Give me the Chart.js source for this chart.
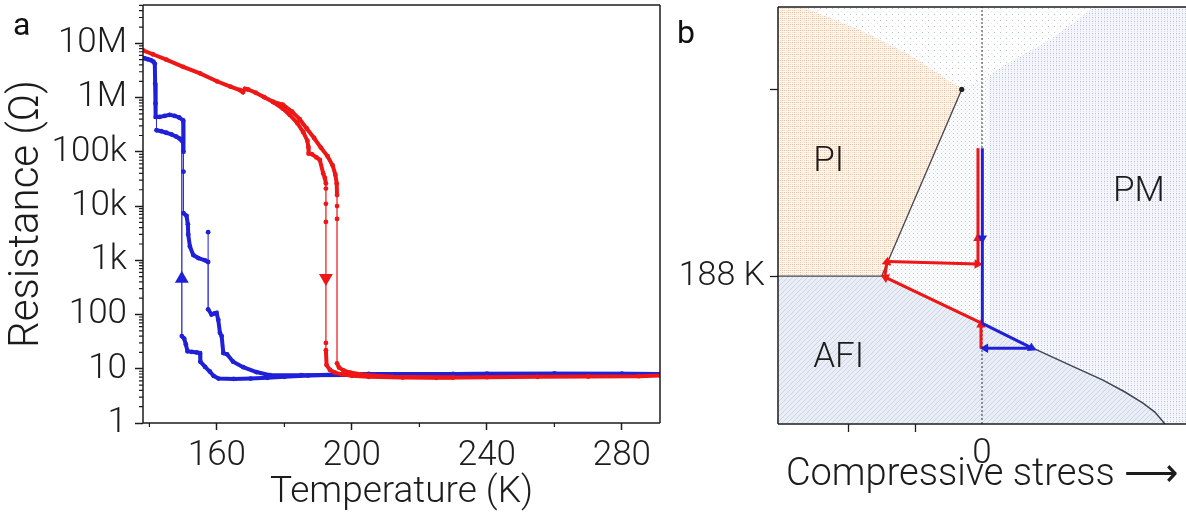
<!DOCTYPE html>
<html>
<head>
<meta charset="utf-8">
<script src="https://cdn.jsdelivr.net/npm/chart.js@4.4.0/dist/chart.umd.min.js"></script>
<style>
  html, body { margin: 0; padding: 0; background: #fff; }
  #wrap { position: relative; width: 1186px; height: 517px; overflow: hidden; }
  #boxA { position: absolute; left: 0; top: 0; }
  #boxB { position: absolute; left: 680px; top: 0; }
  .tag { position: absolute; font-family: Roboto, sans-serif; font-size: 32px; line-height: 32px; color: #111; }
</style>
</head>
<body>
<div id="wrap">
  <div id="boxA"><canvas id="chartA" width="672" height="517"></canvas></div>
  <div id="boxB"><canvas id="chartB" width="506" height="517"></canvas></div>
  <div class="tag" style="left:13px;top:8px">a</div>
  <div class="tag" style="left:677px;top:16px">b</div>
</div>
<script>
// ---- panel a: resistance vs temperature ----
// cooling run 1
const COOL1_T = [137.8, 138.6, 139.5, 140.4, 141.2, 141.6, 141.7, 141.8, 141.9, 143.0, 144.5, 146.0, 147.5, 148.8, 150.0,
  150.1, 150.1, 150.1, 151.0, 151.4, 151.5, 152.0, 153.0, 154.5, 156.5, 157.4, 157.4, 157.4, 158.4, 159.3, 159.9,
  160.4, 160.9, 161.4, 161.9, 163.0, 164.8, 167.8, 171.7, 175.7, 185, 200, 220, 240, 260, 280, 291.5];
const COOL1_R = [5.4e6, 5.3e6, 5.1e6, 4.9e6, 4.6e6, 4.2e6, 1.8e6, 7.8e5, 4.4e5, 4.4e5, 4.6e5, 4.8e5, 4.6e5, 4.3e5, 3.8e5,
  1.0e5, 4.3e4, 7.4e3, 6.6e3, 4.6e3, 3.0e3, 1.8e3, 1.25e3, 1.1e3, 1.0e3, 930, 3.3e3, 125, 100, 105, 107,
  80, 46, 40, 19.5, 18.5, 13.5, 10.7, 8.7, 7.6, 7.6, 7.7, 7.9, 8.1, 8.1, 8.1, 8.0];
// cooling run 2
const COOL2_T = [142.1, 142.1, 143.5, 145.0, 146.5, 148.0, 149.0, 149.6, 149.6, 150.3, 150.8, 151.3, 152.5, 154.0, 155.0,
  155.1, 156.5, 157.9, 159.0, 160.5, 165, 170, 175, 180, 187, 195, 205, 230, 260, 291.5];
const COOL2_R = [4.4e5, 2.5e5, 2.4e5, 2.25e5, 2.1e5, 1.9e5, 1.75e5, 1.6e5, 40, 36, 28, 21, 20.5, 20.0, 19.5,
  13.5, 10.8, 8.9, 7.4, 6.6, 6.5, 6.6, 6.8, 7.1, 7.5, 7.8, 8.0, 8.0, 8.1, 8.0];
// warming run 1
const WARM1_T = [138.1, 141, 145, 150, 155, 160, 164, 166.8, 167.7, 168.3, 169.2, 171.5, 174, 176.7, 179.5, 181.6,
  183.8, 185.6, 186.8, 187.1, 187.2, 188.1, 189.5, 190.5, 191.5, 192.0, 192.3, 192.3, 192.3, 192.3, 192.3, 192.3,
  192.5, 193.5, 195.0, 197.0, 200, 205, 215, 225, 240, 255, 270, 285, 291.5];
const WARM1_R = [7.4e6, 6.3e6, 5.0e6, 3.7e6, 2.8e6, 2.0e6, 1.6e6, 1.38e6, 1.26e6, 1.45e6, 1.41e6, 1.23e6, 1.02e6, 8.3e5, 6.3e5, 4.8e5,
  3.4e5, 2.3e5, 1.6e5, 1.23e5, 9.3e4, 9.1e4, 7.9e4, 7.1e4, 4.0e4, 3.3e4, 2.6e4, 2.1e4, 1.1e4, 5.1e3, 30, 22,
  11.7, 9.5, 8.5, 7.9, 7.4, 7.1, 6.9, 6.8, 7.0, 7.1, 7.2, 7.3, 7.5];
// warming run 2
const WARM2_T = [176.7, 179.5, 182.3, 184.5, 186.6, 188.8, 190.8, 192.8, 194.3, 195.1, 195.5, 195.6, 195.6, 195.6, 195.6,
  196.2, 197.5, 199.5, 202.5, 207, 212, 230];
const WARM2_R = [8.3e5, 7.4e5, 5.5e5, 4.0e5, 2.7e5, 1.8e5, 1.2e5, 8.3e4, 5.6e4, 3.8e4, 2.6e4, 1.6e4, 1.0e4, 5.8e3, 12.6,
  10.5, 9.3, 8.5, 7.9, 7.4, 7.1, 6.9];
// direction markers on the jumps
const COOL_MARK = [149.6, 457];
const WARM_MARK = [192.3, 470];

const T_MAJOR = [160, 200, 240, 280];
const T_MINOR = [140, 180, 220, 260];
const R_MAJOR = [1, 10, 100, 1e3, 1e4, 1e5, 1e6, 1e7];
const R_LABELS = ['1', '10', '100', '1k', '10k', '100k', '1M', '10M'];

// ---- panel b: schematic phase diagram (stress, temperature) ----
const PI_REGION = [[-3.045, 202.39], [-2.672, 202.39], [-1.821, 201.16], [-1.075, 199.82], [-0.552, 198.59],
  [-0.303, 197.98], [-1.497, 188], [-3.045, 188]];
const AFI_EDGE = [[-1.497, 188], [0, 185.47], [0.761, 184.15], [1.313, 183.24], [1.806, 182.44], [2.134, 181.80],
  [2.403, 181.21], [2.58, 180.73], [2.731, 180.09]];
const PM_REGION = [[-0.303, 197.98], [0.104, 198.75], [0.418, 199.44], [1.015, 200.62], [1.687, 202.39],
  [3.045, 202.39], [3.045, 180.09], [-1.497, 180.09], [-1.497, 188]];
const PM_RIGHT = [[0.104, 180.09], [0.104, 198.75], [0.418, 199.44], [1.015, 200.62], [1.687, 202.39],
  [3.045, 202.39], [3.045, 180.09]];
const PI_PM_LINE = [[-0.303, 197.98], [-1.497, 188]];
const PI_AFI_LINE = [[-3.045, 188], [-1.497, 188]];
const END_POINT = [-0.303, 197.98];
const WARM_PATH = [
  [[-0.015, 184.13], [-0.015, 185.40]],
  [[0, 185.47], [-1.44, 187.93]],
  [[-1.448, 188.05], [-1.418, 188.75]],
  [[-1.40, 188.78], [-0.07, 188.64]],
  [[-0.06, 188.64], [-0.06, 190.03], [-0.06, 194.84]]
];
const WARM_HEADS = [1, 1, 1, 1, 1];
const COOL_PATH = [
  [[0.005, 194.84], [0.005, 190.03], [0.005, 185.47]],
  [[0.005, 185.47], [0.74, 184.16]],
  [[0.76, 184.14], [0.05, 184.14]]
];
const COOL_HEADS = [1, 1, 1];
const X_TICKS = [-2, -1, 0];
const Y_TICKS = [188, 198];
const REGION_NAMES = ['PI', 'PM', 'AFI'];
const REGION_AT = [[-2.52, 194.07], [1.955, 192.47], [-2.52, 183.59]];

const FONT = 'Roboto, "Open Sans", sans-serif';
const INK = '#1c1c1c';
const RED = 'rgb(238,22,22)';
const RED_THIN = 'rgba(238,22,22,0.55)';
const BLUE = 'rgb(32,32,216)';
const BLUE_THIN = 'rgba(32,32,216,0.6)';

const pts = (xs, ys) => xs.map((x, i) => ({ x, y: ys[i] }));
const pairs = arr => arr.map(p => ({ x: p[0], y: p[1] }));

// box around the plot area
const frame = {
  id: 'frame',
  afterDraw(chart, args, opts) {
    const { ctx, chartArea: a } = chart;
    const sides = opts.sides || [];
    ctx.save();
    ctx.strokeStyle = INK;
    ctx.lineWidth = 1.5;
    ctx.beginPath();
    if (sides.includes('top')) { ctx.moveTo(a.left, a.top); ctx.lineTo(a.right, a.top); }
    if (sides.includes('right')) { ctx.moveTo(a.right, a.top); ctx.lineTo(a.right, a.bottom); }
    if (sides.includes('bottom')) { ctx.moveTo(a.left, a.bottom); ctx.lineTo(a.right, a.bottom); }
    if (sides.includes('left')) { ctx.moveTo(a.left, a.top); ctx.lineTo(a.left, a.bottom); }
    ctx.stroke();
    ctx.restore();
  }
};

// short unlabelled ticks
const minorTicks = {
  id: 'minorTicks',
  afterDraw(chart, args, opts) {
    const { ctx, chartArea: a, scales } = chart;
    ctx.save();
    ctx.strokeStyle = INK;
    ctx.lineWidth = 1.2;
    ctx.beginPath();
    (opts.x || []).forEach(v => {
      const px = scales.x.getPixelForValue(v);
      ctx.moveTo(px, a.bottom); ctx.lineTo(px, a.bottom + 4);
    });
    (opts.y || []).forEach(v => {
      const py = scales.y.getPixelForValue(v);
      if (py < a.top || py > a.bottom) return;
      ctx.moveTo(a.left, py); ctx.lineTo(a.left - 4, py);
    });
    ctx.stroke();
    ctx.restore();
  }
};

// keep the plot area where it is: no extra room for edge labels
const fixX = h => s => { s.height = h; s.paddingLeft = 0; s.paddingRight = 0; };
const fixY = w => s => { s.width = w; s.paddingTop = 0; s.paddingBottom = 0; };

const rMinor = [];
R_MAJOR.forEach(d => { for (let k = 2; k <= 9; k++) rMinor.push(d * k); });

function runDataset(xs, ys, color, thin) {
  return {
    data: pts(xs, ys),
    showLine: true,
    borderColor: color,
    borderWidth: 4,
    pointRadius: 2.4,
    pointBorderWidth: 0,
    pointBackgroundColor: color,
    segment: {
      borderWidth: ctx => Math.abs(ctx.p0.parsed.x - ctx.p1.parsed.x) < 0.05 ? 1 : 4,
      borderColor: ctx => Math.abs(ctx.p0.parsed.x - ctx.p1.parsed.x) < 0.05 ? thin : color
    }
  };
}

new Chart(document.getElementById('chartA'), {
  type: 'scatter',
  data: {
    datasets: [
      { data: [{ x: WARM_MARK[0], y: WARM_MARK[1] }], pointStyle: 'triangle', rotation: 180, pointRadius: 8,
        pointBackgroundColor: RED, pointBorderWidth: 0 },
      { data: [{ x: COOL_MARK[0], y: COOL_MARK[1] }], pointStyle: 'triangle', rotation: 0, pointRadius: 8,
        pointBackgroundColor: BLUE, pointBorderWidth: 0 },
      runDataset(WARM2_T, WARM2_R, RED, RED_THIN),
      runDataset(WARM1_T, WARM1_R, RED, RED_THIN),
      runDataset(COOL2_T, COOL2_R, BLUE, BLUE_THIN),
      runDataset(COOL1_T, COOL1_R, BLUE, BLUE_THIN)
    ]
  },
  options: {
    responsive: false,
    animation: false,
    events: [],
    layout: { autoPadding: false, padding: { left: 0, top: 5, right: 12, bottom: 0 } },
    plugins: {
      legend: { display: false },
      tooltip: { enabled: false },
      frame: { sides: ['top', 'right', 'bottom', 'left'] },
      minorTicks: { x: T_MINOR, y: rMinor }
    },
    scales: {
      x: {
        type: 'linear', min: 138.1, max: 291.3,
        afterBuildTicks: s => { s.ticks = T_MAJOR.map(v => ({ value: v })); },
        afterFit: fixX(94),
        border: { display: false },
        grid: { drawOnChartArea: false, tickLength: 7, tickColor: INK, tickWidth: 1.5 },
        ticks: { color: INK, padding: 5, maxRotation: 0, autoSkip: false,
          font: { family: FONT, size: 35, weight: 300 }, callback: v => String(v) },
        title: { display: true, text: 'Temperature (K)', color: INK,
          font: { family: FONT, size: 37, weight: 300 }, padding: { top: 0, bottom: 2 } }
      },
      y: {
        type: 'logarithmic', min: 1, max: 5.1e7,
        afterBuildTicks: s => { s.ticks = R_MAJOR.map(v => ({ value: v })); },
        afterFit: fixY(143),
        border: { display: false },
        grid: { drawOnChartArea: false, tickLength: 8, tickColor: INK, tickWidth: 1.5 },
        ticks: { color: INK, padding: 8, autoSkip: false,
          font: { family: FONT, size: 35, weight: 300 }, callback: (v, i) => R_LABELS[i] },
        title: { display: true, text: 'Resistance (\u03A9)', color: INK,
          font: { family: FONT, size: 42, weight: 300 }, padding: { top: 2, bottom: 0 } }
      }
    }
  },
  plugins: [frame, minorTicks]
});

// ---- panel b ----
function makePattern(w, h, bg, dots) {
  const c = document.createElement('canvas');
  c.width = w; c.height = h;
  const g = c.getContext('2d');
  g.fillStyle = bg;
  g.fillRect(0, 0, w, h);
  dots.forEach(([x, y, col]) => { g.fillStyle = col; g.fillRect(x, y, 1, 1); });
  return g.createPattern(c, 'repeat');
}

const sparseDots = makePattern(6, 6, '#ffffff', [[2, 2, '#bcc3d2'], [5, 5, '#e6e9f0']]);
const pmDots = makePattern(4, 4, '#fbfcfe', [[1, 1, '#bcc3e0'], [3, 3, '#e0e4f2']]);
const pmRightDots = makePattern(3, 4, '#f6f7fd', [[1, 1, '#aeb8e6'], [1, 3, '#d4daf2']]);
const piDots = (() => {
  const d = [];
  for (let y = 0; y < 6; y += 2) for (let x = 0; x < 6; x += 2) {
    d.push([x, y, (x < 2 || y < 2) ? '#eebf9e' : '#f7dcc6']);
  }
  return makePattern(6, 6, '#fdf6f0', d);
})();
const afiHatch = (() => {
  const d = [];
  for (let i = 0; i < 5; i++) d.push([i, 4 - i, '#ced5e5']);
  return makePattern(5, 5, '#e9edf6', d);
})();

const Y_MIN = 180.09, Y_MAX = 202.39, X_MIN = -3.045, X_MAX = 3.045;

const headRotation = ctx => {
  const d = ctx.dataset.data, i = ctx.dataIndex;
  const j = i > 0 ? i - 1 : 0, k = i > 0 ? i : 1;
  const sx = ctx.chart.scales.x, sy = ctx.chart.scales.y;
  const dx = sx.getPixelForValue(d[k].x) - sx.getPixelForValue(d[j].x);
  const dy = sy.getPixelForValue(d[k].y) - sy.getPixelForValue(d[j].y);
  return Math.atan2(dx, -dy) * 180 / Math.PI;
};

function arrowDatasets(paths, heads, color) {
  return paths.map((p, n) => ({
    data: pairs(p),
    showLine: true,
    borderColor: color,
    borderWidth: 3,
    pointStyle: 'triangle',
    pointRadius: p.map((_, i) => i === heads[n] ? 5.5 : 0),
    pointBackgroundColor: color,
    pointBorderWidth: 0,
    rotation: headRotation
  }));
}

function region(poly, fillStyle) {
  return { data: pairs(poly), showLine: true, borderWidth: 0, pointRadius: 0, fill: 'shape', backgroundColor: fillStyle };
}

function edge(poly, width) {
  return { data: pairs(poly), showLine: true, borderColor: '#3e4556', borderWidth: width, pointRadius: 0 };
}

const afiPoly = [[-3.045, 188]].concat(AFI_EDGE, [[-3.045, 180.09]]);
const fullRect = [[X_MIN, Y_MIN], [X_MIN, Y_MAX], [X_MAX, Y_MAX], [X_MAX, Y_MIN]];

// region names inside the diagram
const regionLabels = {
  id: 'regionLabels',
  afterDatasetsDraw(chart) {
    const { ctx, scales } = chart;
    ctx.save();
    ctx.font = '300 35px ' + FONT;
    ctx.fillStyle = INK;
    ctx.textAlign = 'left';
    ctx.textBaseline = 'middle';
    REGION_NAMES.forEach((t, i) => {
      ctx.fillText(t, scales.x.getPixelForValue(REGION_AT[i][0]), scales.y.getPixelForValue(REGION_AT[i][1]));
    });
    ctx.restore();
  }
};

new Chart(document.getElementById('chartB'), {
  type: 'scatter',
  data: {
    datasets: [
      ...arrowDatasets(COOL_PATH, COOL_HEADS, BLUE),
      ...arrowDatasets(WARM_PATH, WARM_HEADS, RED),
      { data: [{ x: END_POINT[0], y: END_POINT[1] }], pointRadius: 2.6, pointBackgroundColor: '#222', pointBorderWidth: 0 },
      edge(PI_PM_LINE, 1.3),
      edge(PI_AFI_LINE, 1.3),
      edge(AFI_EDGE, 1.5),
      { data: [{ x: 0, y: Y_MIN }, { x: 0, y: Y_MAX }], showLine: true, borderColor: '#333', borderWidth: 1,
        borderDash: [2, 2], pointRadius: 0 },
      region(afiPoly, afiHatch),
      region(PI_REGION, piDots),
      region(PM_RIGHT, pmRightDots),
      region(PM_REGION, pmDots),
      region(fullRect, sparseDots)
    ]
  },
  options: {
    responsive: false,
    animation: false,
    events: [],
    layout: { autoPadding: false, padding: { left: 0, top: 7, right: 0, bottom: 0 } },
    plugins: {
      legend: { display: false },
      tooltip: { enabled: false },
      frame: { sides: ['top', 'bottom', 'left'] }
    },
    scales: {
      x: {
        type: 'linear', min: X_MIN, max: X_MAX,
        afterBuildTicks: s => { s.ticks = X_TICKS.map(v => ({ value: v })); },
        afterFit: fixX(93),
        border: { display: false },
        grid: { drawOnChartArea: false, tickLength: 8, tickWidth: 1.3,
          tickColor: ctx => (ctx.tick && ctx.tick.value === 0) ? 'rgba(0,0,0,0)' : INK },
        ticks: { color: INK, padding: 1, maxRotation: 0, autoSkip: false,
          font: { family: FONT, size: 35, weight: 300 }, callback: v => v === 0 ? '0' : '' },
        title: { display: true, text: 'Compressive stress \u27F6', color: INK,
          font: { family: FONT, size: 38, weight: 300 }, padding: { top: 0, bottom: 19 } }
      },
      y: {
        type: 'linear', min: Y_MIN, max: Y_MAX,
        afterBuildTicks: s => { s.ticks = Y_TICKS.map(v => ({ value: v })); },
        afterFit: fixY(98),
        border: { display: false },
        grid: { drawOnChartArea: false, tickLength: 8, tickColor: INK, tickWidth: 1.3 },
        ticks: { color: INK, padding: 5, autoSkip: false,
          font: { family: FONT, size: 34, weight: 300 }, callback: v => v === 188 ? '188 K' : '' }
      }
    }
  },
  plugins: [frame, regionLabels]
});
</script>
</body>
</html>
